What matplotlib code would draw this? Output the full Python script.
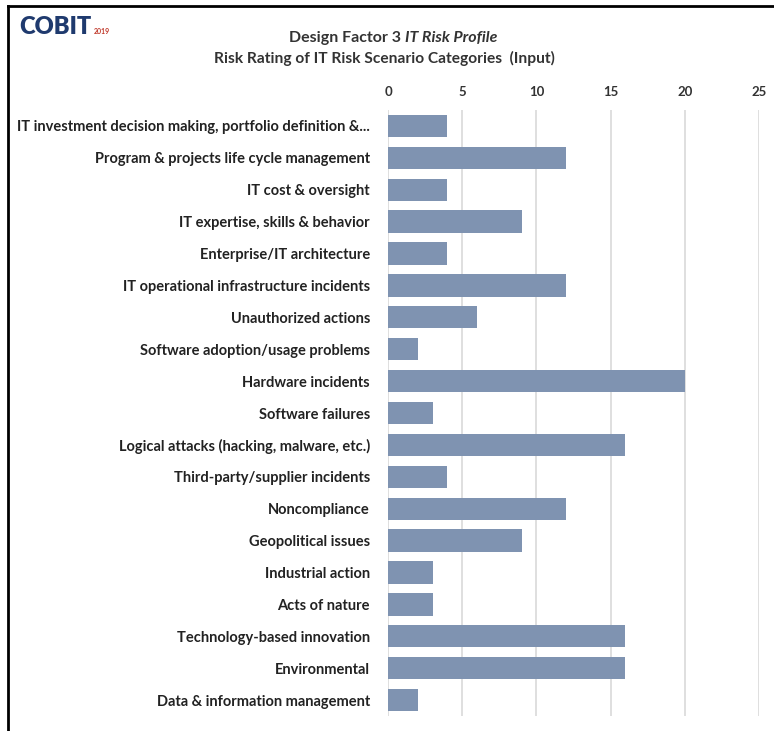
import matplotlib.pyplot as plt
from matplotlib.lines import Line2D

categories = [
    "IT investment decision making, portfolio definition &...",
    "Program & projects life cycle management",
    "IT cost & oversight",
    "IT expertise, skills & behavior",
    "Enterprise/IT architecture",
    "IT operational infrastructure incidents",
    "Unauthorized actions",
    "Software adoption/usage problems",
    "Hardware incidents",
    "Software failures",
    "Logical attacks (hacking, malware, etc.)",
    "Third-party/supplier incidents",
    "Noncompliance",
    "Geopolitical issues",
    "Industrial action",
    "Acts of nature",
    "Technology-based innovation",
    "Environmental",
    "Data & information management",
]
ratings = [4, 12, 4, 9, 4, 12, 6, 2, 20, 3, 16, 4, 12, 9, 3, 3, 16, 16, 2]
xticks = [0, 5, 10, 15, 20, 25]

FONT = ["Lato", "DejaVu Sans"]
plt.rcParams["font.family"] = FONT

fig = plt.figure(figsize=(7.74, 7.31), dpi=100, facecolor="white")
W, H = 774, 731
ax = fig.add_axes([388 / W, 1 - 716 / H, (759 - 388) / W, (716 - 110) / H])

pos = list(range(len(categories)))
ax.barh(pos, ratings, height=0.7, color="#7F93B1", zorder=3)
ax.set_ylim(len(categories) - 0.5, -0.5)
ax.set_xlim(0, 25)
ax.set_xticks(xticks)
ax.set_yticks(pos)
ax.set_yticklabels(categories, fontsize=10.5, fontweight="bold", color="#222222")
ax.xaxis.tick_top()
ax.tick_params(axis="x", length=0, pad=9, labelsize=9.5, labelcolor="#333333")
ax.tick_params(axis="y", length=0, pad=13)
for lbl in ax.get_xticklabels():
    lbl.set_fontweight("bold")
ax.grid(axis="x", color="#D9D9D9", linewidth=1.2, zorder=0)
for s in ax.spines.values():
    s.set_visible(False)

# title lines
fig.text(405 / W, 1 - 38 / H, "Design Factor 3 ", ha="right", va="center",
         fontsize=11.5, fontweight="bold", color="#333333")
fig.text(405 / W, 1 - 38 / H, "IT Risk Profile", ha="left", va="center",
         fontsize=11.5, fontweight="bold", style="italic", color="#333333")
fig.text(384 / W, 1 - 58 / H, "Risk Rating of IT Risk Scenario Categories  (Input)",
         ha="center", va="center", fontsize=11.2, fontweight="bold", color="#333333")

# logo
fig.text(19 / W, 1 - 27 / H, "COBIT", ha="left", va="center", fontsize=17,
         fontweight="heavy", color="#1F3A6E")
fig.text(94 / W, 1 - 31 / H, "2019", ha="left", va="center", fontsize=5,
         fontweight="bold", color="#C0392B")

# frame on top and left
fig.add_artist(Line2D([8 / W, 1], [1 - 6 / H, 1 - 6 / H], color="black", linewidth=2,
                      transform=fig.transFigure))
fig.add_artist(Line2D([8 / W, 8 / W], [0, 1 - 6 / H], color="black", linewidth=2,
                      transform=fig.transFigure))

fig.savefig("out.png", dpi=100, facecolor="white")
